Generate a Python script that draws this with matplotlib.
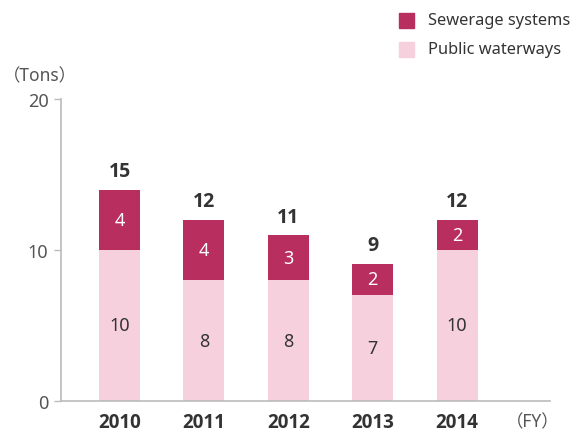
import matplotlib.pyplot as plt
from matplotlib.patches import Rectangle

years = ["2010", "2011", "2012", "2013", "2014"]
public = [10, 8, 8, 7, 10]
sewerage = [4, 4, 3, 2.1, 2]
public_labels = ["10", "8", "8", "7", "10"]
sewerage_labels = ["4", "4", "3", "2", "2"]
totals = ["15", "12", "11", "9", "12"]
yticks = [0, 10, 20]

plt.rcParams['font.family'] = ['Noto Sans', 'Noto Sans CJK JP', 'DejaVu Sans']
BOLD = ['Open Sans', 'Lato', 'DejaVu Sans']

C_SEW = "#B82E5E"
C_PUB = "#F7D0DD"
TXT = "#333333"
GRAY = "#555555"
SPINE = "#BBBBBB"

fig = plt.figure(figsize=(5.76, 4.35), dpi=100)
ax = fig.add_axes([61/576, 33/435, 489/576, 302/435])

x = list(range(len(years)))
w = 0.486
ax.bar(x, public, width=w, color=C_PUB, zorder=2)
ax.bar(x, sewerage, width=w, bottom=public, color=C_SEW, zorder=2)

for i in x:
    ax.text(i, public[i] / 2, public_labels[i], ha='center', va='center',
            fontsize=13, color=TXT, zorder=3)
    ax.text(i, public[i] + sewerage[i] / 2, sewerage_labels[i], ha='center',
            va='center', fontsize=13, color='white', zorder=3)
    ax.text(i, public[i] + sewerage[i] + 0.55, totals[i], ha='center',
            va='bottom', fontsize=14, fontweight='bold', family=BOLD,
            color=TXT, zorder=3)

ax.set_xlim(-0.694, 5.10)
ax.set_ylim(0, 20)
ax.set_yticks(yticks)
ax.set_yticklabels([str(t) for t in yticks])
ax.set_xticks(x)
ax.set_xticklabels(years, fontweight='bold', family=BOLD)
ax.tick_params(axis='y', colors=SPINE, labelcolor=GRAY, labelsize=13,
               length=5, width=1, pad=4, direction='out')
ax.tick_params(axis='x', length=0, labelsize=13.5, labelcolor=TXT, pad=8)
for s in ['top', 'right']:
    ax.spines[s].set_visible(False)
for s in ['left', 'bottom']:
    ax.spines[s].set_color(SPINE)
    ax.spines[s].set_linewidth(1.2)

fig.text(3/576, 1 - 76/435, "（Tons）", ha='left', va='center',
         fontsize=12.5, color=GRAY)
fig.text(560/576, 1 - 422/435, "（FY）", ha='right', va='center',
         fontsize=12.5, color=GRAY)

# legend
for yy, col, lab in [(21, C_SEW, "Sewerage systems"), (50, C_PUB, "Public waterways")]:
    fig.patches.append(Rectangle((399/576, 1 - (yy + 7.5)/435), 15/576, 15/435,
                                 transform=fig.transFigure, color=col))
    fig.text(428/576, 1 - yy/435, lab, ha='left', va='center',
             fontsize=11.8, color=TXT)

fig.savefig("out.png", dpi=100)
